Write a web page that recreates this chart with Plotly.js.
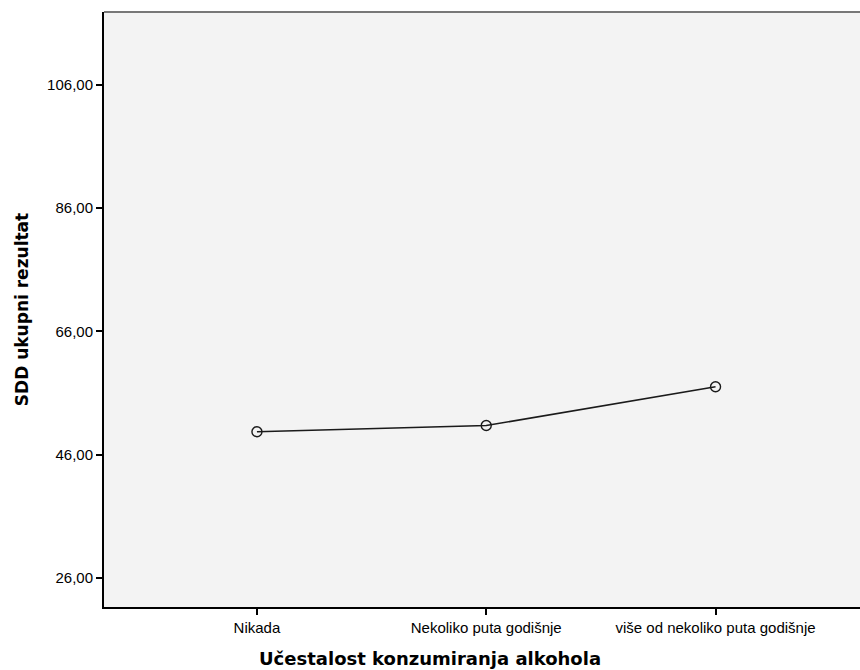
<!DOCTYPE html>
<html>
<head>
<meta charset="utf-8">
<script src="https://cdn.plot.ly/plotly-3.0.1.min.js"></script>
<style>html,body{margin:0;padding:0;background:#fff;}#chart{width:860px;height:670px;}</style>
</head>
<body>
<div id="chart"></div>
<script>
const categories = ["Nikada", "Nekoliko puta godišnje", "više od nekoliko puta godišnje"];
const meanValues = [49.7, 50.7, 57.0];
const yTickValues = [26, 46, 66, 86, 106];
const yTickLabels = ["26,00", "46,00", "66,00", "86,00", "106,00"];
const xTitle = "Učestalost konzumiranja alkohola";
const yTitle = "SDD ukupni rezultat";

const trace = {
  x: categories,
  y: meanValues,
  type: "scatter",
  mode: "lines+markers",
  line: {color: "#1a1a1a", width: 1.6},
  marker: {symbol: "circle-open", size: 10, color: "#1a1a1a", line: {width: 1.4, color: "#1a1a1a"}},
  hoverinfo: "skip"
};

const layout = {
  width: 860, height: 670,
  margin: {l: 104, r: 0, t: 12, b: 63},
  paper_bgcolor: "#ffffff",
  plot_bgcolor: "#f3f3f3",
  showlegend: false,
  font: {family: "Liberation Sans, Arial, sans-serif", size: 15, color: "#000"},
  xaxis: {
    type: "category",
    range: [-0.667, 2.63],
    showgrid: false, zeroline: false,
    showline: true, linecolor: "#000", linewidth: 2,
    ticks: "outside", ticklen: 6, tickwidth: 2, tickcolor: "#000",
    tickfont: {size: 15},
    automargin: false
  },
  yaxis: {
    range: [21.24, 117.85],
    tickvals: yTickValues, ticktext: yTickLabels,
    showgrid: false, zeroline: false,
    showline: true, linecolor: "#000", linewidth: 2,
    ticks: "outside", ticklen: 6, tickwidth: 2, tickcolor: "#000",
    tickfont: {size: 15},
    automargin: false,
    title: {text: yTitle, font: {size: 17, family: "DejaVu Sans, sans-serif", weight: "bold"}, standoff: 14}
  },
  annotations: [{
    text: "<b>" + xTitle + "</b>",
    xref: "paper", yref: "paper",
    x: (430 - 104) / 756, y: -(658 - 607) / 595,
    xanchor: "center", yanchor: "middle",
    showarrow: false,
    font: {size: 18, family: "DejaVu Sans, sans-serif", color: "#000"}
  }],
  shapes: [{
    type: "line", xref: "paper", yref: "paper", x0: 0, x1: 1, y0: 1, y1: 1,
    line: {color: "#777", width: 2}
  }]
};

Plotly.newPlot("chart", [trace], layout, {displayModeBar: false, staticPlot: true});
</script>
</body>
</html>
